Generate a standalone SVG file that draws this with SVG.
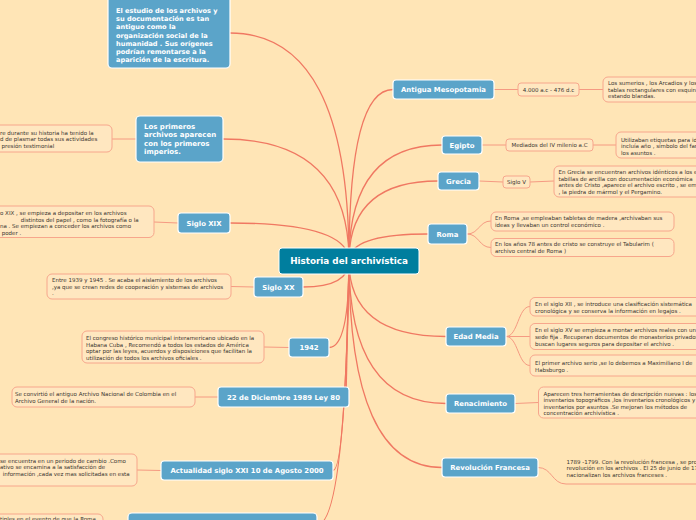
<svg xmlns="http://www.w3.org/2000/svg" width="696" height="520" viewBox="0 0 696 520">
<style>
.bg{fill:#FFE5B6}
.main{fill:none;stroke:#F07862;stroke-width:1.3}
.sub{fill:none;stroke:#F59A82;stroke-width:1}
.blue{fill:#5BA4C9;stroke:#FFFFFF;stroke-width:1.2}
.center{fill:#007E9E;stroke:#FFFFFF;stroke-width:1}
.tb{fill:#FFE7C0;stroke:#F7A68C;stroke-width:1}
.lbl{font-family:"DejaVu Sans",Verdana,sans-serif;font-weight:bold;fill:#FFFFFF;font-size:6.9px}
.ml{font-family:"DejaVu Sans",Verdana,sans-serif;font-weight:bold;fill:#FFFFFF}
.t{font-family:"DejaVu Sans",Verdana,sans-serif;fill:#3A3530;font-size:5.5px}
.c{text-anchor:middle}
</style>
<rect class="bg" x="0" y="0" width="696" height="520"/>

<g id="connectors">
  <path class="main" d="M349 261 Q349 33 230 33"/>
  <path class="main" d="M349 261 Q349 139 223 139"/>
  <path class="main" d="M349 261 Q349 223 230 223"/>
  <path class="main" d="M349 261 Q349 287 303 287"/>
  <path class="main" d="M349 261 Q349 347.5 329 347.5"/>
  <path class="main" d="M349 261 Q346 397 346 397"/>
  <path class="main" d="M349 261 Q345 470.5 333 470.5"/>
  <path class="main" d="M349 261 Q345 525 317 525"/>
  <path class="main" d="M349 261 Q349 89.5 393 89.5"/>
  <path class="main" d="M349 261 Q349 145 442 145"/>
  <path class="main" d="M349 261 Q349 181 438 181"/>
  <path class="main" d="M349 261 Q349 234 428 234"/>
  <path class="main" d="M349 261 Q349 336.5 446 336.5"/>
  <path class="main" d="M349 261 Q349 403.5 446 403.5"/>
  <path class="main" d="M349 261 Q349 467.5 442 467.5"/>

  <path class="sub" d="M112 139 L136 139"/>
  <path class="sub" d="M154 222 L178 223"/>
  <path class="sub" d="M231 286.5 L254 287"/>
  <path class="sub" d="M264 347 L289 347.5"/>
  <path class="sub" d="M195 397 L218 397"/>
  <path class="sub" d="M137 470 L161 470.5"/>
  <path class="sub" d="M494 89.5 L518 89.5 M579 89.5 L603 89.5"/>
  <path class="sub" d="M482 145 L506 145 M593 145 L616 145"/>
  <path class="sub" d="M479 181 L503 182 M530 182 L554 181"/>
  <path class="sub" d="M467 234 C479 234 479 221 491 221 M467 234 C479 234 479 247.5 491 247.5"/>
  <path class="sub" d="M506 336.5 C518 336.5 518 306.5 530 306.5 M506 336.5 L530 336.5 M506 336.5 C518 336.5 518 365.5 530 365.5"/>
  <path class="sub" d="M515 403.5 L538.5 402.5"/>
  <path class="sub" d="M538 467.5 C552 467.5 552 484 566 484 L700 484"/>
</g>

<g id="n-center">
  <rect class="center" x="279" y="248" width="140" height="26" rx="3"/>
  <text class="ml c" x="349" y="264.2" font-size="8.8">Historia del archivística</text>
</g>

<g id="n-origen">
  <rect class="blue" x="108" y="-8" width="122" height="76" rx="4"/>
  <text class="ml" font-size="6.6" x="116">
    <tspan x="116" y="12.5">El estudio de los archivos y</tspan>
    <tspan x="116" y="20.8">su documentación es tan</tspan>
    <tspan x="116" y="29.1">antiguo como la</tspan>
    <tspan x="116" y="37.5">organización  social de la</tspan>
    <tspan x="116" y="45.8">humanidad . Sus orígenes</tspan>
    <tspan x="116" y="54.1">podrían remontarse a la</tspan>
    <tspan x="116" y="62.4">aparición de la escritura.</tspan>
  </text>
</g>

<g id="n-imperios">
  <rect class="blue" x="136" y="116" width="87" height="46" rx="4"/>
  <text class="ml" font-size="7">
    <tspan x="144" y="128.6">Los primeros</tspan>
    <tspan x="144" y="137.1">archivos aparecen</tspan>
    <tspan x="144" y="145.6">con los primeros</tspan>
    <tspan x="144" y="154.1">imperios.</tspan>
  </text>
  <rect class="tb" x="-20" y="125" width="132" height="27" rx="5"/>
  <text class="t">
    <tspan x="0" y="134.7">re durante su historia ha tenido la</tspan>
    <tspan x="0" y="141.1">d de plasmar todas sus actividades</tspan>
    <tspan x="1.5" y="147.5">presión testimonial</tspan>
  </text>
</g>

<g id="n-sigloxix">
  <rect class="blue" x="178" y="213" width="52" height="20" rx="3"/>
  <text class="lbl c" x="204" y="225.5">Siglo XIX</text>
  <rect class="tb" x="-20" y="206" width="174" height="31.5" rx="5"/>
  <text class="t">
    <tspan x="0" y="215">o XIX , se empieza a depositar  en los archivos</tspan>
    <tspan x="20.7" y="221.6">distintos del papel , como la fotografía o la</tspan>
    <tspan x="0" y="228.2">na . Se empiezan a conceder los archivos como</tspan>
    <tspan x="1.7" y="234.8">poder .</tspan>
  </text>
</g>

<g id="n-sigloxx">
  <rect class="blue" x="254" y="277" width="49" height="20" rx="3"/>
  <text class="lbl c" x="278.5" y="289.5">Siglo XX</text>
  <rect class="tb" x="47" y="274" width="184" height="25" rx="5"/>
  <text class="t">
    <tspan x="52" y="282.2">Entre 1939 y 1945 . Se acaba el aislamiento de los archivos</tspan>
    <tspan x="52" y="288.8">,ya que se crean redes de cooperación y sistemas de archivos</tspan>
    <tspan x="52" y="295.4">.</tspan>
  </text>
</g>

<g id="n-1942">
  <rect class="blue" x="289" y="338" width="40" height="19" rx="3"/>
  <text class="lbl c" x="309" y="350">1942</text>
  <rect class="tb" x="82" y="331" width="182" height="32" rx="5"/>
  <text class="t">
    <tspan x="86" y="340">El congreso histórico municipal interamericano ubicado en la</tspan>
    <tspan x="86" y="346.5">Habana  Cuba , Recomendó a todos los estados de América</tspan>
    <tspan x="86" y="353">optar por las leyes, acuerdos y disposiciones que facilitan la</tspan>
    <tspan x="86" y="359.5">utilización de todos los archivos oficiales .</tspan>
  </text>
</g>

<g id="n-1989">
  <rect class="blue" x="218" y="387" width="131" height="20" rx="3"/>
  <text class="lbl c" x="283.5" y="399.5">22 de Diciembre 1989 Ley 80</text>
  <rect class="tb" x="12" y="387" width="183" height="20" rx="5"/>
  <text class="t">
    <tspan x="15" y="396.4">Se convirtió el antiguo Archivo Nacional de Colombia en el</tspan>
    <tspan x="15" y="403.1">Archivo General de la nación.</tspan>
  </text>
</g>

<g id="n-actualidad">
  <rect class="blue" x="161" y="461" width="172" height="19" rx="3"/>
  <text class="lbl c" x="247" y="473">Actualidad siglo XXI 10 de Agosto 2000</text>
  <rect class="tb" x="-20" y="454" width="157" height="32" rx="5"/>
  <text class="t">
    <tspan x="0" y="462.5">se encuentra en un periodo de cambio .Como</tspan>
    <tspan x="0" y="469.1">ativo se encamina a la satisfacción de</tspan>
    <tspan x="2.7" y="475.7">información ,cada vez mas solicitadas en esta</tspan>
  </text>
</g>

<g id="n-bottom">
  <rect class="blue" x="128" y="513" width="189" height="24" rx="4"/>
  <rect class="tb" x="-20" y="514" width="123" height="20" rx="5"/>
  <text class="t" x="0" y="521.2">tiples en el evento de que la Roma</text>
</g>

<g id="n-mesopotamia">
  <rect class="blue" x="393" y="80" width="101" height="19" rx="3"/>
  <text class="lbl c" x="443.5" y="92">Antigua Mesopotamia</text>
  <rect class="tb" x="518" y="83" width="61" height="13" rx="3"/>
  <text class="t c" x="548.5" y="91.5">4.000 a.c - 476 d.c</text>
  <rect class="tb" x="603" y="77" width="120" height="25" rx="5"/>
  <text class="t">
    <tspan x="608" y="85">Los sumerios , los Arcadios y los</tspan>
    <tspan x="608" y="91.6">tablas rectangulares con esquinas</tspan>
    <tspan x="608" y="98.2">estando blandas.</tspan>
  </text>
</g>

<g id="n-egipto">
  <rect class="blue" x="442" y="136" width="40" height="18" rx="3"/>
  <text class="lbl c" x="462" y="147.5">Egipto</text>
  <rect class="tb" x="506" y="139" width="87" height="12" rx="3"/>
  <text class="t c" x="549.5" y="147">Mediados  del IV milenio a.C</text>
  <rect class="tb" x="616" y="132" width="100" height="26" rx="5"/>
  <text class="t">
    <tspan x="621" y="141.5">Utilizaban etiquetas para identificar</tspan>
    <tspan x="621" y="148">incluía año , símbolo del faraón</tspan>
    <tspan x="621" y="154.5">los asuntos .</tspan>
  </text>
</g>

<g id="n-grecia">
  <rect class="blue" x="438" y="172" width="41" height="18" rx="3"/>
  <text class="lbl c" x="458.5" y="183.5">Grecia</text>
  <rect class="tb" x="503" y="176" width="27" height="12" rx="3"/>
  <text class="t c" x="516.5" y="184">Siglo V</text>
  <rect class="tb" x="554" y="166" width="160" height="31" rx="5"/>
  <text class="t">
    <tspan x="558.5" y="174">En Grecia se encuentran archivos idénticos a los egipcios</tspan>
    <tspan x="558.5" y="180.7">tabillas de arcilla  con documentación económica</tspan>
    <tspan x="558.5" y="187.4">antes de Cristo ,aparece el archivo  escrito , se emplea</tspan>
    <tspan x="558.5" y="194.1">, la piedra de mármol y el Pergamino.</tspan>
  </text>
</g>

<g id="n-roma">
  <rect class="blue" x="428" y="224" width="39" height="20" rx="3"/>
  <text class="lbl c" x="447.5" y="236.5">Roma</text>
  <rect class="tb" x="491" y="212" width="183" height="19" rx="5"/>
  <text class="t">
    <tspan x="495" y="219.8">En Roma ,se empleaban tabletas de madera ,archivaban sus</tspan>
    <tspan x="495" y="226.5">ideas y llevaban un control económico   .</tspan>
  </text>
  <rect class="tb" x="491" y="238.5" width="183" height="18" rx="5"/>
  <text class="t">
    <tspan x="495" y="246.4">En los años 78 antes de cristo se construye el Tabularim (</tspan>
    <tspan x="495" y="253.2">archivo central de Roma )</tspan>
  </text>
</g>

<g id="n-edadmedia">
  <rect class="blue" x="446" y="327" width="60" height="19" rx="3"/>
  <text class="lbl c" x="476" y="339">Edad Media</text>
  <rect class="tb" x="530" y="297.5" width="190" height="18.5" rx="5"/>
  <text class="t">
    <tspan x="535" y="305.8">En el siglo XII , se introduce una clasificación sistemática</tspan>
    <tspan x="535" y="312.6">cronológica y se conserva la información en legajos .</tspan>
  </text>
  <rect class="tb" x="530" y="323.5" width="190" height="26" rx="5"/>
  <text class="t">
    <tspan x="535" y="331.5">En el siglo XV se empieza a montar archivos reales con un</tspan>
    <tspan x="535" y="338.5">sede fija . Recuperan documentos de monasterios privados</tspan>
    <tspan x="535" y="345.5">buscan lugares seguros para depositar el archivo .</tspan>
  </text>
  <rect class="tb" x="530" y="355" width="190" height="21" rx="5"/>
  <text class="t">
    <tspan x="535" y="364.8">El primer archivo serio ,se lo debemos a Maximiliano I de</tspan>
    <tspan x="535" y="371.8">Habsburgo .</tspan>
  </text>
</g>

<g id="n-renacimiento">
  <rect class="blue" x="446" y="394" width="69" height="19" rx="3"/>
  <text class="lbl c" x="480.5" y="406">Renacimiento</text>
  <rect class="tb" x="538.5" y="387" width="180" height="31" rx="5"/>
  <text class="t">
    <tspan x="543.5" y="395.5">Aparecen tres herramientas de descripción nuevas : los</tspan>
    <tspan x="543.5" y="402">inventarios topográficos ,los inventarios cronológicos y</tspan>
    <tspan x="543.5" y="408.5">inventarios por asuntos .Se mejoran  los métodos  de</tspan>
    <tspan x="543.5" y="415">concentración archivística .</tspan>
  </text>
</g>

<g id="n-revolucion">
  <rect class="blue" x="442" y="458" width="96" height="19" rx="3"/>
  <text class="lbl c" x="490" y="470">Revolución Francesa</text>
  <text class="t">
    <tspan x="566.5" y="463.5">1789 -1799. Con la revolución francesa , se produce una</tspan>
    <tspan x="566.5" y="470.1">revolución en los archivos . El 25 de junio de 1794 se</tspan>
    <tspan x="566.5" y="476.7">nacionalizan los archivos  franceses .</tspan>
  </text>
</g>
</svg>
